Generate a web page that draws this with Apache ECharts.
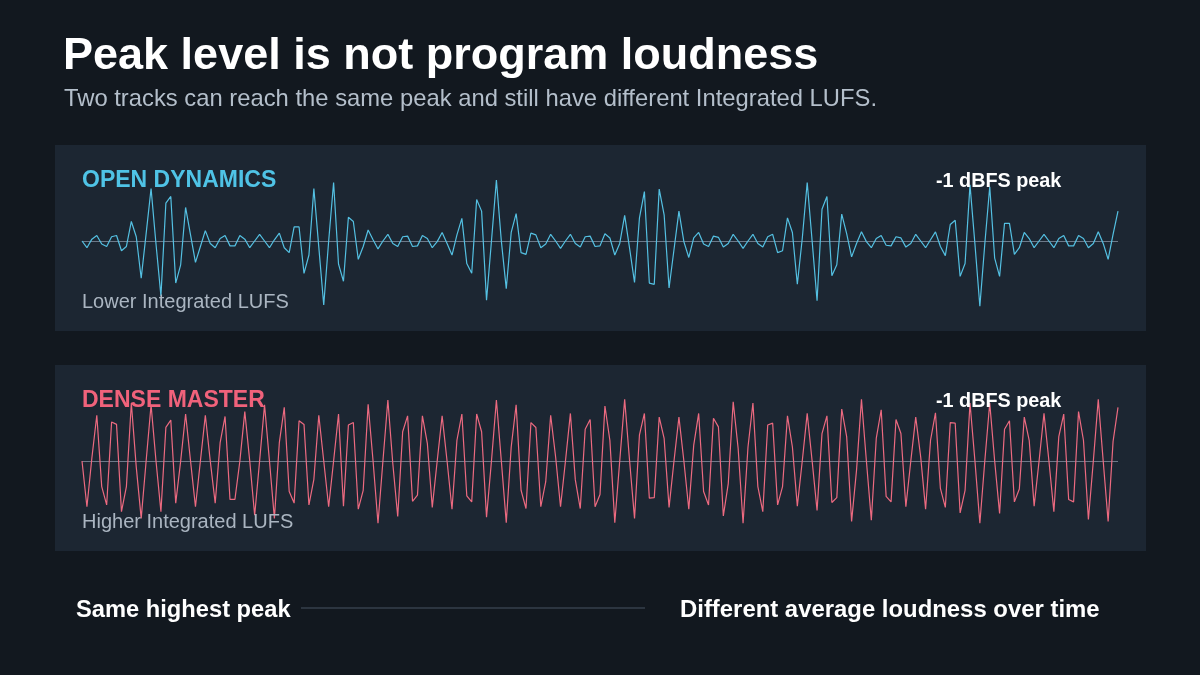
<!DOCTYPE html>
<html>
<head>
<meta charset="utf-8">
<script src="https://cdn.jsdelivr.net/npm/echarts@6/dist/echarts.min.js"></script>
<style>
html,body{margin:0;padding:0;background:#12181f;}
#chart{width:1200px;height:675px;}
</style>
</head>
<body>
<div id="chart"></div>
<script>
// Normalised waveform amplitude (1.0 = -1 dBFS peak)
const openDynamics = [
 0, -0.11, 0.03, 0.09, -0.05, -0.09, 0.07, 0.09, -0.16, -0.09,
 0.32, 0.07, -0.61, 0.12, 0.86, -0.05, -0.9, 0.62, 0.73, -0.69,
 -0.39, 0.55, 0.1, -0.35, -0.09, 0.17, -0.04, -0.11, 0.04, 0.09,
 -0.08, -0.08, 0.09, 0.03, -0.11, 0.0, 0.11, 0.0, -0.11, 0.02,
 0.13, -0.11, -0.19, 0.23, 0.23, -0.53, -0.23, 0.86, -0.1, -1.05,
 0.0, 0.96, -0.38, -0.66, 0.39, 0.32, -0.30, -0.09, 0.18, 0.02,
 -0.13, 0.0, 0.11, -0.04, -0.09, 0.07, 0.08, -0.09, -0.08, 0.09,
 0.04, -0.11, -0.01, 0.14, -0.04, -0.23, 0.1, 0.37, -0.37, -0.53,
 0.68, 0.49, -0.97, 0.0, 1.0, 0.0, -0.78, 0.14, 0.45, -0.19,
 -0.22, 0.13, 0.1, -0.11, -0.05, 0.11, 0.0, -0.12, 0.0, 0.11,
 -0.04, -0.10, 0.07, 0.08, -0.09, -0.08, 0.12, 0.05, -0.23, -0.04,
 0.42, -0.12, -0.68, 0.38, 0.81, -0.69, -0.71, 0.85, 0.43, -0.77,
 -0.14, 0.49, -0.01, -0.27, 0.05, 0.14, -0.05, -0.09, 0.08, 0.06,
 -0.10, -0.04, 0.11, 0.0, -0.12, 0.0, 0.11, -0.04, -0.10, 0.07,
 0.11, -0.19, -0.16, 0.38, 0.14, -0.71, 0.04, 0.96, 0.0, -0.98,
 0.52, 0.73, -0.57, -0.39, 0.44, 0.12, -0.26, -0.04, 0.15, -0.01,
 -0.11, 0.04, 0.09, -0.07, -0.08, 0.07, 0.05, -0.10, -0.04, 0.11,
 0.0, -0.11, 0.02, 0.15, -0.09, -0.24, 0.27, 0.34, -0.58, -0.37,
 0.92, -0.05, -1.07, -0.05, 0.89, -0.28, -0.58, 0.29, 0.29, -0.22,
 -0.11, 0.14, 0.04, -0.11, 0.0, 0.11, 0.0, -0.11, 0.04, 0.09,
 -0.08, -0.08, 0.09, 0.04, -0.11, -0.04, 0.15, -0.04, -0.30, 0.11,
 0.49
];
const denseMaster = [
 0, -0.75, 0.05, 0.75, -0.42, -0.72, 0.64, 0.60, -0.83, -0.42,
 0.95, -0.1, -0.94, 0.0, 0.92, 0.0, -0.83, 0.55, 0.67, -0.69,
 0.0, 0.77, 0.0, -0.75, 0.0, 0.75, 0.0, -0.69, 0.3, 0.73,
 -0.63, -0.63, 0.0, 0.81, 0.0, -0.89, 0.0, 0.92, 0.0, -0.94,
 0.3, 0.88, -0.5, -0.69, 0.66, 0.60, -0.72, -0.3, 0.75, 0.0,
 -0.75, 0.0, 0.77, -0.74, 0.59, 0.63, -0.79, -0.48, 0.93, 0.0,
 -1.02, 0.0, 1.0, -0.04, -0.91, 0.48, 0.74, -0.66, -0.56, 0.74,
 0.29, -0.76, 0.0, 0.74, 0.0, -0.79, 0.34, 0.77, -0.57, -0.67,
 0.77, 0.48, -0.92, 0.0, 1.0, 0.0, -1.01, 0.23, 0.92, -0.48,
 -0.78, 0.63, 0.55, -0.75, -0.34, 0.75, 0.07, -0.75, 0.0, 0.78,
 -0.31, -0.78, 0.52, 0.68, -0.75, -0.55, 0.90, 0.34, -1.01, 0.0,
 1.01, 0.0, -0.94, 0.43, 0.78, -0.61, -0.60, 0.72, 0.37, -0.76,
 0.0, 0.72, 0.0, -0.79, 0.26, 0.78, -0.50, -0.72, 0.70, 0.56,
 -0.90, -0.37, 0.97, 0.21, -1.02, 0.23, 0.95, -0.42, -0.83, 0.59,
 0.62, -0.72, -0.42, 0.74, 0.23, -0.74, 0.0, 0.78, 0.0, -0.81,
 0.45, 0.74, -0.68, -0.60, 0.85, 0.40, -0.99, -0.15, 1.01, 0.0,
 -0.97, 0.37, 0.84, -0.58, -0.67, 0.68, 0.45, -0.75, 0.0, 0.72,
 0.07, -0.79, 0.34, 0.79, -0.45, -0.76, 0.63, 0.62, -0.85, -0.48,
 0.95, 0.0, -1.02, 0.0, 0.95, 0.0, -0.86, 0.52, 0.66, -0.67,
 -0.46, 0.72, 0.34, -0.74, 0.0, 0.78, 0.0, -0.83, 0.40, 0.77,
 -0.63, -0.67, 0.81, 0.34, -0.96, 0.0, 1.01, 0.0, -0.99, 0.32,
 0.88
];
const samples = openDynamics.map((_, i) => String(i));

const titleText = 'Peak level is not program loudness';
const subtitleText = 'Two tracks can reach the same peak and still have different Integrated LUFS.';
const panelNames = ['OPEN DYNAMICS', 'DENSE MASTER'];
const peakLabel = '-1 dBFS peak';
const lufsLabels = ['Lower Integrated LUFS', 'Higher Integrated LUFS'];
const footerLeft = 'Same highest peak';
const footerRight = 'Different average loudness over time';

const FONT = '"Liberation Sans", Arial, Helvetica, sans-serif';
const BLUE = '#54c0e2';
const RED = '#ec6a80';

const chart = echarts.init(document.getElementById('chart'), null, {renderer: 'canvas'});

function txt(x, y, text, size, color, weight, align) {
  return {
    type: 'text', x: x, y: y, silent: true, z: 10,
    style: {
      text: text, fill: color, fontSize: size, fontWeight: weight || 'normal',
      fontFamily: FONT, align: align || 'left', verticalAlign: 'middle'
    }
  };
}

const centerLine = {
  silent: true, symbol: ['none', 'none'], label: {show: false},
  lineStyle: {color: '#6c7888', width: 1, type: 'solid'},
  data: [{yAxis: 0}]
};

chart.setOption({
  backgroundColor: '#12181f',
  animation: false,
  grid: [
    {left: 82, right: 82, top: 149.5, height: 183},
    {left: 82, right: 82, top: 369.5, height: 183}
  ],
  xAxis: [
    {type: 'category', gridIndex: 0, data: samples, boundaryGap: false, show: false},
    {type: 'category', gridIndex: 1, data: samples, boundaryGap: false, show: false}
  ],
  yAxis: [
    {type: 'value', gridIndex: 0, min: -1.5, max: 1.5, show: false},
    {type: 'value', gridIndex: 1, min: -1.5, max: 1.5, show: false}
  ],
  series: [
    {
      type: 'line', name: panelNames[0], xAxisIndex: 0, yAxisIndex: 0,
      data: openDynamics, showSymbol: false, z: 5,
      lineStyle: {color: BLUE, width: 1.2}, markLine: centerLine
    },
    {
      type: 'line', name: panelNames[1], xAxisIndex: 1, yAxisIndex: 1,
      data: denseMaster, showSymbol: false, z: 5,
      lineStyle: {color: RED, width: 1.2}, markLine: centerLine
    }
  ],
  graphic: [
    {type: 'rect', shape: {x: 55, y: 145, width: 1091, height: 186}, style: {fill: '#1c2632'}, z: -10, silent: true},
    {type: 'rect', shape: {x: 55, y: 365, width: 1091, height: 186}, style: {fill: '#1c2632'}, z: -10, silent: true},
    txt(63, 57, titleText, 45, '#ffffff', 'bold'),
    txt(64, 99, subtitleText, 23.8, '#b4bfcb', 'normal'),
    txt(82, 181, panelNames[0], 23, '#4fc3e6', 'bold'),
    txt(936, 182, peakLabel, 19.8, '#ffffff', 'bold'),
    txt(82, 302, lufsLabels[0], 20, '#aab5c1', 'normal'),
    txt(82, 401, panelNames[1], 23, '#f0627b', 'bold'),
    txt(936, 402, peakLabel, 19.8, '#ffffff', 'bold'),
    txt(82, 522, lufsLabels[1], 20, '#aab5c1', 'normal'),
    txt(76, 610, footerLeft, 23.7, '#ffffff', 'bold'),
    {type: 'line', shape: {x1: 301, y1: 608, x2: 645, y2: 608}, style: {stroke: '#465263', lineWidth: 1}, silent: true},
    txt(680, 610, footerRight, 23.9, '#ffffff', 'bold')
  ]
});
</script>
</body>
</html>
